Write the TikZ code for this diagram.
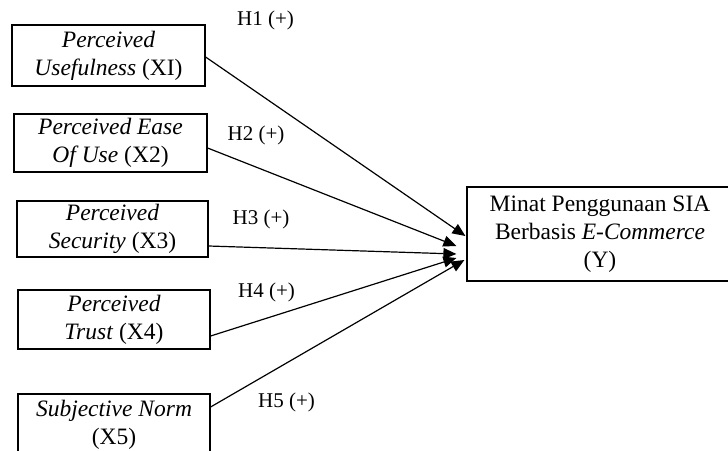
\documentclass[tikz,border=0pt]{standalone}
\usepackage{fontspec}
\setmainfont{Liberation Serif}
\usetikzlibrary{arrows.meta}
\begin{document}
\begin{tikzpicture}[x=1pt,y=-1pt,
  varbox/.style={draw, line width=1.2pt, align=center, inner sep=0pt,
    font=\fontsize{23.5}{28}\selectfont},
  hyp/.style={-{Triangle[length=13pt,width=11pt]}, line width=1.2pt},
  hlabel/.style={font=\fontsize{21}{24}\selectfont, inner sep=0pt}]
\clip (0,0) rectangle (728,450);

% independent variables
\node[varbox, minimum width=193pt, minimum height=61pt] (x1) at (108.5,55.5)
  {\textit{Perceived}\\\textit{Usefulness} (XI)};
\node[varbox, minimum width=193pt, minimum height=58pt] (x2) at (110.5,143)
  {\textit{Perceived Ease}\\\textit{Of Use} (X2)};
\node[varbox, minimum width=191pt, minimum height=56pt] (x3) at (112.5,229)
  {\textit{Perceived}\\\textit{Security} (X3)};
\node[varbox, minimum width=192pt, minimum height=59pt] (x4) at (114,319.5)
  {\textit{Perceived}\\\textit{Trust} (X4)};
\node[varbox, minimum width=192pt, minimum height=62pt] (x5) at (114,425)
  {\textit{Subjective Norm}\\(X5)};

% dependent variable
\node[varbox, minimum width=266pt, minimum height=94pt] (y) at (600,234)
  {Minat Penggunaan SIA\\Berbasis \textit{E-Commerce}\\(Y)};

% arrow tips beside the dependent variable
\coordinate (t1) at ([xshift=-1pt,yshift=-2pt]y.west);
\coordinate (t2) at ([xshift=-10pt,yshift=-12pt]y.west);
\coordinate (t3) at ([xshift=-10pt,yshift=-20pt]y.west);
\coordinate (t4) at ([xshift=-10pt,yshift=-24pt]y.west);
\coordinate (t5) at ([xshift=-2pt,yshift=-26pt]y.west);

% hypotheses
\draw[hyp] ([yshift=-1.5pt]x1.east) -- (t1);
\draw[hyp] ([yshift=-5pt]x2.east) -- (t2);
\draw[hyp] ([yshift=-17pt]x3.east) -- (t3);
\draw[hyp] ([yshift=-16.5pt]x4.east) -- (t4);
\draw[hyp] ([yshift=18pt]x5.east) -- (t5);

\node[hlabel] (h1) at (265.5,20.5) {H1 (+)};
\node[hlabel] (h2) at (256,135) {H2 (+)};
\node[hlabel] (h3) at (261,219) {H3 (+)};
\node[hlabel] (h4) at (266.5,292) {H4 (+)};
\node[hlabel] (h5) at (286.5,402) {H5 (+)};
\end{tikzpicture}
\end{document}
